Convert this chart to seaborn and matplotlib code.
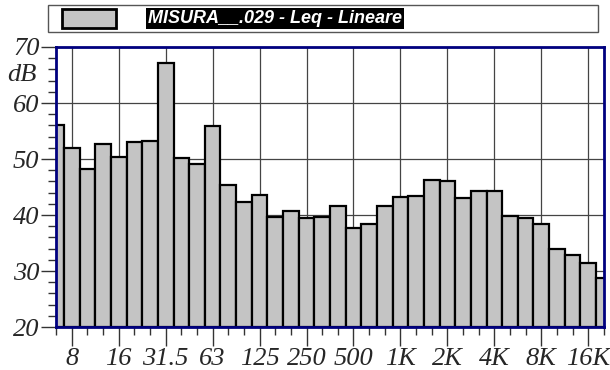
import matplotlib
matplotlib.use("Agg")
import matplotlib.pyplot as plt
import seaborn as sns
import pandas as pd
from matplotlib.patches import Rectangle
from matplotlib.ticker import MultipleLocator, FixedLocator

# third-octave bands 6.3 Hz .. 20 kHz
bands = ["6.3", "8", "10", "12.5", "16", "20", "25", "31.5", "40", "50", "63", "80",
         "100", "125", "160", "200", "250", "315", "400", "500", "630", "800",
         "1K", "1.25K", "1.6K", "2K", "2.5K", "3.15K", "4K", "5K", "6.3K", "8K",
         "10K", "12.5K", "16K", "20K"]
leq = [56.1, 52.0, 48.3, 52.7, 50.3, 53.0, 53.3, 67.1, 50.2, 49.1, 55.9, 45.3,
       42.3, 43.6, 39.6, 40.8, 39.4, 39.7, 41.6, 37.7, 38.4, 41.7,
       43.2, 43.4, 46.2, 46.0, 43.0, 44.3, 44.3, 39.8, 39.4, 38.4,
       34.0, 32.8, 31.4, 28.8]
octave_labels = ["8", "16", "31.5", "63", "125", "250", "500", "1K", "2K", "4K", "8K", "16K"]
legend_label = "MISURA__.029 - Leq - Lineare"

df = pd.DataFrame({"band": bands, "leq": leq})

sns.set_style("white")
plt.rcParams["font.family"] = ["Liberation Serif", "DejaVu Serif"]
plt.rcParams["font.style"] = "italic"

fig = plt.figure(figsize=(6.1, 3.7), dpi=100)
ax = fig.add_axes([0.092, 0.116, 0.898, 0.757])

bar_color = "#c4c4c4"
sns.barplot(data=df, x="band", y="leq", order=bands, color=bar_color,
            saturation=1, width=1.0, edgecolor="black", linewidth=1.6, ax=ax,
            zorder=3)

# bars start from the 20 dB floor
for p in ax.patches:
    h = p.get_height()
    p.set_y(20)
    p.set_height(h - 20)

ax.set_xlim(0, len(bands) - 1)
ax.set_ylim(20, 70)

major_idx = [bands.index(l) for l in octave_labels]
ax.xaxis.set_major_locator(FixedLocator(major_idx))
ax.set_xticklabels(octave_labels)
ax.xaxis.set_minor_locator(FixedLocator(range(len(bands))))
ax.yaxis.set_major_locator(MultipleLocator(10))
ax.yaxis.set_minor_locator(MultipleLocator(2))

ax.grid(True, which="major", color="#444444", linewidth=0.9, zorder=0)
ax.set_axisbelow(True)
ax.tick_params(axis="x", which="both", bottom=True, direction="out")
ax.tick_params(axis="y", which="both", left=True, direction="out")
ax.tick_params(axis="x", which="major", length=14, width=1, color="#333333",
               labelsize=19, pad=1)
ax.tick_params(axis="x", which="minor", length=6, width=1, color="#333333")
ax.tick_params(axis="y", which="major", length=11, width=1, color="#333333",
               labelsize=19, pad=1)
ax.tick_params(axis="y", which="minor", length=6, width=1, color="#333333")

for s in ax.spines.values():
    s.set_color("#00007f")
    s.set_linewidth(2)
    s.set_zorder(5)

ax.set_xlabel("")
ax.set_ylabel("")
ax.text(-0.035, 65, "dB", transform=ax.get_yaxis_transform(), ha="right",
        va="center", fontsize=19)

# legend box
fig.patches.append(Rectangle((0.079, 0.914), 0.901, 0.072, transform=fig.transFigure,
                             facecolor="white", edgecolor="#555555", linewidth=1))
fig.patches.append(Rectangle((0.102, 0.924), 0.088, 0.052, transform=fig.transFigure,
                             facecolor=bar_color, edgecolor="black", linewidth=2))
fig.text(0.243, 0.950, legend_label, color="white", fontsize=13, fontweight="bold",
         fontstyle="italic", family=["Liberation Sans", "DejaVu Sans"],
         ha="left", va="center",
         bbox=dict(facecolor="black", edgecolor="none", pad=1.5))

fig.savefig("out.png", dpi=100)
